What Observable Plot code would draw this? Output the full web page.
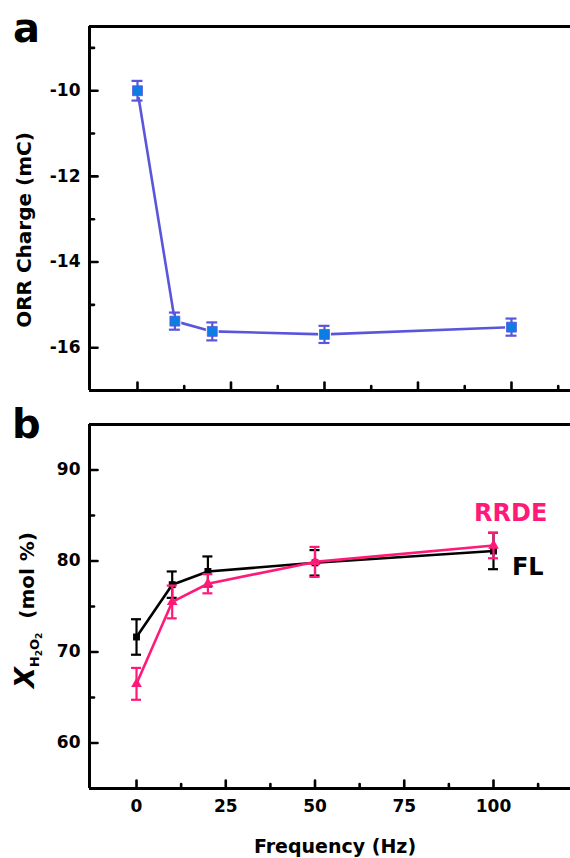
<!DOCTYPE html>
<html><head><meta charset="utf-8">
<script src="https://cdn.jsdelivr.net/npm/d3@7"></script>
<script src="https://cdn.jsdelivr.net/npm/@observablehq/plot@0.6"></script>
<style>
body{margin:0;background:#fff;}
#fig{position:relative;width:570px;height:858px;overflow:hidden;background:#fff;}
#fig svg{position:absolute;left:0;}
</style></head><body><div id="fig"></div>
<script>
// ---- data ----
const freq = [0, 10, 20, 50, 100];
const orrCharge = [-10.0, -15.38, -15.62, -15.69, -15.52];
const orrErr = [0.23, 0.2, 0.21, 0.2, 0.2];
const flValues = [71.65, 77.4, 78.85, 79.8, 81.1];
const flErr = [1.95, 1.45, 1.65, 1.4, 2.0];
const rrdeValues = [66.5, 75.5, 77.5, 79.9, 81.7];
const rrdeErr = [1.75, 1.8, 1.05, 1.65, 1.4];
const xMajor = [0, 25, 50, 75, 100];
const xMinor = [12.5, 37.5, 62.5, 87.5, 112.5];
const yMajorA = [-10, -12, -14, -16];
const yMinorA = [-9, -11, -13, -15];
const yMajorB = [60, 70, 80, 90];
const yMinorB = [65, 75, 85];

const FONT = "DejaVu Sans, Liberation Sans, Arial, sans-serif";
const lineBlue = "#5a56dc", markBlue = "#0b7de3", pink = "#ff1a7a";

const rowsA = freq.map((f, i) => ({f, v: orrCharge[i], lo: orrCharge[i] - orrErr[i], hi: orrCharge[i] + orrErr[i]}));
const rowsFL = freq.map((f, i) => ({f, v: flValues[i], lo: flValues[i] - flErr[i], hi: flValues[i] + flErr[i]}));
const rowsRR = freq.map((f, i) => ({f, v: rrdeValues[i], lo: rrdeValues[i] - rrdeErr[i], hi: rrdeValues[i] + rrdeErr[i]}));

const tickShape = {draw(ctx, l) { ctx.moveTo(0, 0); ctx.lineTo(0, -l); }};
const vTicks = (vals, len, sw) => Plot.vector(vals, {y: d => d, frameAnchor: "left", rotate: 90, length: len, anchor: "start", shape: tickShape, stroke: "black", strokeWidth: sw});
const hTicks = (vals, len, sw) => Plot.vector(vals, {x: d => d, frameAnchor: "bottom", rotate: 0, length: len, anchor: "start", shape: tickShape, stroke: "black", strokeWidth: sw});

function errMarks(rows, color, cap, sw) {
  return [
    Plot.ruleX(rows, {x: "f", y1: "lo", y2: "hi", stroke: color, strokeWidth: sw}),
    Plot.ruleY(rows, {x1: "f", x2: "f", y: "hi", insetLeft: -cap, insetRight: -cap, stroke: color, strokeWidth: sw}),
    Plot.ruleY(rows, {x1: "f", x2: "f", y: "lo", insetLeft: -cap, insetRight: -cap, stroke: color, strokeWidth: sw})
  ];
}

const style = {fontFamily: FONT, fontSize: "17px", fontWeight: "bold", background: "transparent", overflow: "visible"};

// ---- panel a ----
const xDomA = [-12.83, 115.78], yDomA = [-17, -8.5];
const plotA = Plot.plot({
  width: 570, height: 400,
  marginLeft: 89, marginRight: 0, marginTop: 26, marginBottom: 10,
  style,
  x: {domain: xDomA, axis: null},
  y: {domain: yDomA},
  marks: [
    Plot.line(rowsA, {x: "f", y: "v", stroke: lineBlue, strokeWidth: 2.6}),
    Plot.dot(rowsA, {x: "f", y: "v", symbol: "square", r: 7.2, fill: "white", stroke: "none"}),
    ...errMarks(rowsA, lineBlue, 5.5, 2.2),
    Plot.dot(rowsA, {x: "f", y: "v", symbol: "square", r: 5.6, fill: markBlue, stroke: lineBlue, strokeWidth: 0.8}),
    Plot.ruleX([xDomA[0]], {stroke: "black", strokeWidth: 3}),
    Plot.ruleY(yDomA, {stroke: "black", strokeWidth: 3}),
    vTicks(yMajorA, 8, 2.6), vTicks(yMinorA, 4.5, 2.6),
    hTicks(xMajor, 8, 2.6), hTicks(xMinor, 4.5, 2.6),
    Plot.axisY({ticks: yMajorA, tickSize: 0, tickPadding: 9, tickFormat: d => String(d), label: null})
  ]
});
plotA.style.top = "0px";

// ---- panel b ----
const xDomB = [-13.17, 121.57], yDomB = [55, 95];
const plotB = Plot.plot({
  width: 570, height: 458,
  marginLeft: 89, marginRight: 0, marginTop: 24, marginBottom: 70,
  style,
  x: {domain: xDomB},
  y: {domain: yDomB},
  marks: [
    Plot.line(rowsFL, {x: "f", y: "v", stroke: "black", strokeWidth: 2.6}),
    ...errMarks(rowsFL, "black", 5, 2.2),
    Plot.dot(rowsFL, {x: "f", y: "v", symbol: "square", r: 3.9, fill: "black"}),
    Plot.line(rowsRR, {x: "f", y: "v", stroke: pink, strokeWidth: 2.6}),
    ...errMarks(rowsRR, pink, 5, 2.2),
    Plot.dot(rowsRR, {x: "f", y: "v", symbol: "triangle", r: 4, fill: pink}),
    Plot.text(["RRDE"], {x: 104.8, y: 85.2, text: d => d, fill: pink, fontSize: 24, fontWeight: "bold"}),
    Plot.text(["FL"], {x: 109.6, y: 79.35, text: d => d, fill: "black", fontSize: 24, fontWeight: "bold"}),
    Plot.ruleX([xDomB[0]], {stroke: "black", strokeWidth: 3}),
    Plot.ruleY(yDomB, {stroke: "black", strokeWidth: 3}),
    vTicks(yMajorB, 8, 2.6), vTicks(yMinorB, 4.5, 2.6),
    hTicks(xMajor, 8, 2.6), hTicks(xMinor, 4.5, 2.6),
    Plot.axisY({ticks: yMajorB, tickSize: 0, tickPadding: 9, tickFormat: d => String(d), label: null}),
    Plot.axisX({ticks: xMajor, tickSize: 0, tickPadding: 11, tickFormat: d => String(d), label: null})
  ]
});
plotB.style.top = "400px";

const fig = document.getElementById("fig");
fig.appendChild(plotA);
fig.appendChild(plotB);

// ---- labels ----
const ov = d3.select(fig).append("svg")
  .attr("width", 570).attr("height", 858)
  .style("top", "0px").style("pointer-events", "none")
  .attr("font-family", FONT).attr("font-weight", "bold");
ov.append("text").attr("x", 13).attr("y", 42).attr("font-size", 40).text("a");
ov.append("text").attr("x", 12).attr("y", 438).attr("font-size", 40).text("b");
ov.append("text").attr("transform", "translate(31,230) rotate(-90)")
  .attr("text-anchor", "middle").attr("font-size", 20).text("ORR Charge (mC)");
const yl = ov.append("text").attr("transform", "translate(34,610) rotate(-90)")
  .attr("text-anchor", "middle");
yl.append("tspan").attr("font-size", 27).attr("font-style", "italic").text("X");
yl.append("tspan").attr("font-size", 13).attr("dy", 5).text("H");
yl.append("tspan").attr("font-size", 9).attr("dy", 3).text("2");
yl.append("tspan").attr("font-size", 13).attr("dy", -3).text("O");
yl.append("tspan").attr("font-size", 9).attr("dy", 3).text("2");
yl.append("tspan").attr("font-size", 20).attr("dy", -8).text("\u00a0\u00a0(mol %)");
ov.append("text").attr("x", 335).attr("y", 853).attr("text-anchor", "middle")
  .attr("font-size", 19).text("Frequency (Hz)");
</script>
</body></html>
